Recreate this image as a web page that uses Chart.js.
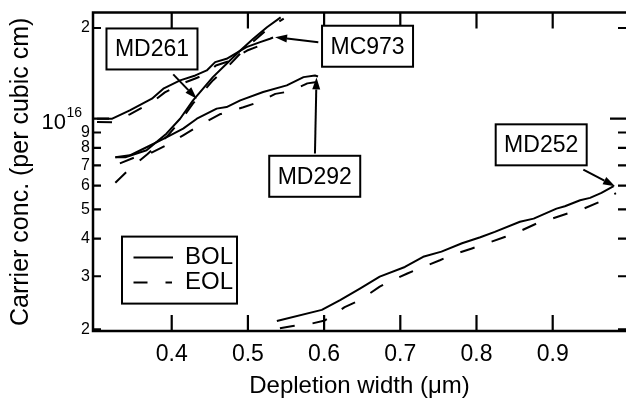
<!DOCTYPE html>
<html><head><meta charset="utf-8">
<script src="https://cdn.jsdelivr.net/npm/chart.js@4.4.1/dist/chart.umd.min.js"></script>
<style>html,body{margin:0;padding:0;background:#fff;}canvas{display:block;}</style>
</head><body>
<canvas id="c" width="626" height="398"></canvas>
<script>
// ---- tick values ----
const xTicks = [0.4, 0.5, 0.6, 0.7, 0.8, 0.9];
const yTicks = [2e15, 3e15, 4e15, 5e15, 6e15, 7e15, 8e15, 9e15, 1e16, 2e16];

// ---- series (x: depletion width in um, y: carrier conc. per cubic cm) ----
const md252BolX = [0.538, 0.597, 0.621, 0.647, 0.673, 0.706, 0.730, 0.754, 0.781, 0.805, 0.824, 0.857, 0.875, 0.905, 0.916, 0.936, 0.949, 0.964, 0.980];
const md252BolY = [2.13e15, 2.32e15, 2.50e15, 2.73e15, 2.99e15, 3.22e15, 3.48e15, 3.62e15, 3.86e15, 4.04e15, 4.21e15, 4.55e15, 4.66e15, 5.03e15, 5.12e15, 5.36e15, 5.46e15, 5.67e15, 5.97e15];
const md252EolX = [0.542, 0.559, 0.584, 0.601, 0.627, 0.647, 0.673, 0.686, 0.710, 0.730, 0.752, 0.768, 0.794, 0.814, 0.837, 0.855, 0.879, 0.899, 0.920, 0.936, 0.962, 0.983];
const md252EolY = [2.015e15, 2.05e15, 2.09e15, 2.14e15, 2.37e15, 2.50e15, 2.77e15, 2.88e15, 3.07e15, 3.22e15, 3.39e15, 3.53e15, 3.71e15, 3.86e15, 4.05e15, 4.21e15, 4.49e15, 4.66e15, 4.85e15, 4.97e15, 5.30e15, 5.66e15];

const md292BolX = [0.326, 0.345, 0.367, 0.393, 0.415, 0.433, 0.459, 0.472, 0.490, 0.520, 0.551, 0.573, 0.588, 0.592];
const md292BolY = [7.45e15, 7.56e15, 8.04e15, 8.67e15, 9.27e15, 1.0e16, 1.08e16, 1.093e16, 1.15e16, 1.226e16, 1.29e16, 1.374e16, 1.392e16, 1.381e16];
const md292EolX = [0.332, 0.352, 0.372, 0.393, 0.415, 0.437, 0.463, 0.494, 0.513, 0.536, 0.555, 0.578, 0.595];
const md292EolY = [7.11e15, 7.45e15, 7.68e15, 8.16e15, 8.81e15, 9.51e15, 1.034e16, 1.091e16, 1.133e16, 1.209e16, 1.232e16, 1.31e16, 1.33e16];

const md261BolX = [0.326, 0.339, 0.367, 0.393, 0.411, 0.428, 0.454, 0.472, 0.490, 0.507, 0.525, 0.543];
const md261BolY = [7.45e15, 7.45e15, 7.86e15, 8.92e15, 1.0e16, 1.15e16, 1.374e16, 1.522e16, 1.684e16, 1.842e16, 2.012e16, 2.17e16];
const md261EolX = [0.326, 0.345, 0.368, 0.394, 0.411, 0.428, 0.454, 0.474, 0.490, 0.507, 0.525, 0.547];
const md261EolY = [6.13e15, 6.82e15, 7.62e15, 8.74e15, 9.80e15, 1.124e16, 1.34e16, 1.491e16, 1.647e16, 1.805e16, 1.977e16, 2.15e16];

const mc973BolX = [0.302, 0.322, 0.345, 0.374, 0.389, 0.411, 0.431, 0.446, 0.457, 0.472, 0.498, 0.516, 0.529, 0.533];
const mc973BolY = [1.0e16, 1.0e16, 1.066e16, 1.165e16, 1.258e16, 1.34e16, 1.392e16, 1.446e16, 1.541e16, 1.581e16, 1.728e16, 1.795e16, 1.842e16, 1.86e16];
const mc973EolX = [0.302, 0.322, 0.345, 0.374, 0.391, 0.411, 0.431, 0.447, 0.458, 0.474, 0.499, 0.516, 0.532];
const mc973EolY = [9.76e15, 9.73e15, 1.034e16, 1.133e16, 1.223e16, 1.30e16, 1.36e16, 1.413e16, 1.502e16, 1.549e16, 1.684e16, 1.75e16, 1.818e16];

// ---- annotations (label boxes and arrows, anchored in data coordinates) ----
const noteText  = ['MD261', 'MC973', 'MD292', 'MD252'];
const noteBoxX  = [0.3741, 0.657, 0.5877, 0.8849];
const noteBoxY  = [1.704e16, 1.74e16, 6.44e15, 8.19e15];
const arrowFromX = [0.402, 0.5924, 0.588, 0.9402];
const arrowFromY = [1.403e16, 1.795e16, 7.66e15, 6.78e15];
const arrowToX   = [0.4328, 0.5356, 0.590, 0.9818];
const arrowToY   = [1.165e16, 1.864e16, 1.371e16, 5.97e15];

const FONT = '"Liberation Sans", Arial, Helvetica, sans-serif';
const DASH = [15, 18];

function pts(xs, ys) { return xs.map((x, i) => ({ x: x, y: ys[i] })); }
function ds(xs, ys, dashed) {
  return {
    data: pts(xs, ys), borderColor: '#000', borderWidth: 2, pointRadius: 0,
    tension: 0, fill: false, borderDash: dashed ? DASH : [], borderJoinStyle: 'round'
  };
}

function arrow(ctx, x1, y1, x2, y2) {
  const ang = Math.atan2(y2 - y1, x2 - x1);
  const L = 12, W = 4;
  const bx = x2 - L * Math.cos(ang), by = y2 - L * Math.sin(ang);
  ctx.beginPath(); ctx.moveTo(x1, y1); ctx.lineTo(bx, by); ctx.stroke();
  ctx.beginPath();
  ctx.moveTo(x2, y2);
  ctx.lineTo(bx + W * Math.sin(ang), by - W * Math.cos(ang));
  ctx.lineTo(bx - W * Math.sin(ang), by + W * Math.cos(ang));
  ctx.closePath(); ctx.fill();
}

const framePlugin = {
  id: 'frame',
  afterDraw(chart) {
    const { ctx, chartArea: a } = chart;
    const x = chart.scales.x, y = chart.scales.y;
    ctx.save();
    ctx.strokeStyle = '#000'; ctx.fillStyle = '#000';
    ctx.lineWidth = 2.5; ctx.lineCap = 'butt';
    ctx.beginPath();
    ctx.moveTo(a.left - 1.25, a.top); ctx.lineTo(a.right, a.top);
    ctx.moveTo(a.left, a.top); ctx.lineTo(a.left, a.bottom);
    ctx.moveTo(a.left - 1.25, a.bottom); ctx.lineTo(a.right, a.bottom);
    ctx.stroke();
    // ticks (inward)
    ctx.lineWidth = 2.2;
    ctx.beginPath();
    x.ticks.forEach(t => {
      const px = x.getPixelForValue(t.value);
      ctx.moveTo(px, a.bottom); ctx.lineTo(px, a.bottom - 16);
      ctx.moveTo(px, a.top); ctx.lineTo(px, a.top + 16);
    });
    y.ticks.forEach(t => {
      const py = y.getPixelForValue(t.value);
      const len = t.value === 1e16 ? 16 : 8;
      ctx.moveTo(a.left, py); ctx.lineTo(a.left + len, py);
      ctx.moveTo(a.right, py); ctx.lineTo(a.right - len, py);
    });
    ctx.stroke();
    // 10^16 label
    const p16 = y.getPixelForValue(1e16);
    ctx.textAlign = 'right'; ctx.textBaseline = 'alphabetic';
    ctx.font = '14px ' + FONT;
    const w16 = ctx.measureText('16').width;
    const rightEdge = a.left - 11;
    ctx.fillText('16', rightEdge, p16 - 1.5);
    ctx.font = '22px ' + FONT;
    ctx.fillText('10', rightEdge - w16 - 0.5, p16 + 10.5);
    // annotations
    ctx.lineWidth = 2;
    ctx.font = '23px ' + FONT;
    ctx.textAlign = 'center'; ctx.textBaseline = 'middle';
    noteText.forEach((txt, i) => {
      const cx = x.getPixelForValue(noteBoxX[i]), cy = y.getPixelForValue(noteBoxY[i]);
      const w = 91, h = 41;
      ctx.fillStyle = '#fff';
      ctx.fillRect(cx - w / 2, cy - h / 2, w, h);
      ctx.fillStyle = '#000';
      ctx.strokeRect(cx - w / 2, cy - h / 2, w, h);
      ctx.fillText(txt, cx, cy + 1);
      arrow(ctx, x.getPixelForValue(arrowFromX[i]), y.getPixelForValue(arrowFromY[i]),
                 x.getPixelForValue(arrowToX[i]), y.getPixelForValue(arrowToY[i]));
    });
    // legend
    const lx = a.left + 29, ly = a.top + 224, lw = 115, lh = 67;
    ctx.fillStyle = '#fff'; ctx.fillRect(lx, ly, lw, lh); ctx.fillStyle = '#000';
    ctx.strokeRect(lx, ly, lw, lh);
    ctx.lineWidth = 2;
    ctx.beginPath(); ctx.moveTo(lx + 11.5, ly + 21); ctx.lineTo(lx + 51, ly + 21); ctx.stroke();
    ctx.setLineDash([14, 18]);
    ctx.beginPath(); ctx.moveTo(lx + 11.5, ly + 46); ctx.lineTo(lx + 50, ly + 46); ctx.stroke();
    ctx.setLineDash([]);
    ctx.textAlign = 'left';
    ctx.font = '24px ' + FONT;
    ctx.fillText('BOL', lx + 63, ly + 21);
    ctx.fillText('EOL', lx + 63, ly + 46);
    ctx.restore();
  }
};

new Chart(document.getElementById('c').getContext('2d'), {
  type: 'line',
  data: {
    datasets: [
      ds(md252BolX, md252BolY, false), ds(md252EolX, md252EolY, true),
      ds(md292BolX, md292BolY, false), ds(md292EolX, md292EolY, true),
      ds(md261BolX, md261BolY, false), ds(md261EolX, md261EolY, true),
      ds(mc973BolX, mc973BolY, false), ds(mc973EolX, mc973EolY, true)
    ]
  },
  options: {
    responsive: false, animation: false, devicePixelRatio: 1,
    layout: { padding: { top: 12, right: 0, bottom: 0, left: 0 } },
    plugins: { legend: { display: false }, tooltip: { enabled: false }, title: { display: false } },
    scales: {
      x: {
        type: 'linear', min: 0.2967, max: 0.9962,
        grid: { display: false, drawTicks: false }, border: { display: false },
        afterBuildTicks: s => { s.ticks = xTicks.map(v => ({ value: v })); },
        afterFit: s => { s.height = 67; },
        ticks: { callback: v => Number(v).toFixed(1), color: '#000', font: { family: FONT, size: 23 }, padding: 10, maxRotation: 0, autoSkip: false },
        title: { display: true, text: 'Depletion width (μm)', color: '#000', font: { family: FONT, size: 24, lineHeight: 1 }, padding: { top: 0, bottom: 0 } }
      },
      y: {
        type: 'logarithmic', min: 1.974e15, max: 2.25e16,
        grid: { display: false, drawTicks: false }, border: { display: false },
        afterBuildTicks: s => { s.ticks = yTicks.map(v => ({ value: v })); },
        afterFit: s => { s.width = 93; },
        ticks: {
          callback: v => (v === 1e16 ? '' : String(Math.round(v / (v >= 1e16 ? 1e16 : 1e15)))),
          color: '#000', font: { family: FONT, size: 16 }, padding: 3, autoSkip: false
        },
        title: { display: true, text: 'Carrier conc. (per cubic cm)', color: '#000', font: { family: FONT, size: 25, lineHeight: 1 }, padding: { top: 9, bottom: 0 } }
      }
    }
  },
  plugins: [framePlugin]
});
</script>
</body></html>
